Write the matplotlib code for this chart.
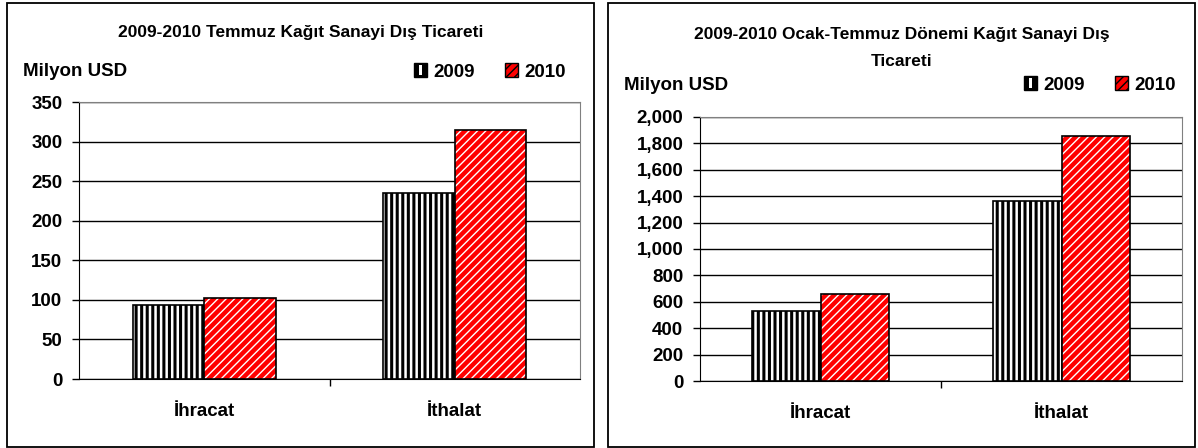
import numpy as np
import matplotlib
matplotlib.use("Agg")
import matplotlib as mpl
import matplotlib.pyplot as plt
from matplotlib.patches import Rectangle, Patch
from matplotlib.ticker import FixedLocator, FuncFormatter

# ---------------- data ----------------
categories = ['İhracat', 'İthalat']
series_names = ['2009', '2010']
temmuz_2009 = [93.5, 235.5]
temmuz_2010 = [102.7, 315.0]
ocak_temmuz_2009 = [530, 1364]
ocak_temmuz_2010 = [661, 1856]
title_left = '2009-2010 Temmuz Kağıt Sanayi Dış Ticareti'
title_right = '2009-2010 Ocak-Temmuz Dönemi Kağıt Sanayi Dış\nTicareti'
unit_label = 'Milyon USD'
left_ticks = [0, 50, 100, 150, 200, 250, 300, 350]
right_ticks = [0, 200, 400, 600, 800, 1000, 1200, 1400, 1600, 1800, 2000]

plt.rcParams['font.family'] = ['Liberation Sans', 'DejaVu Sans']
plt.rcParams['font.weight'] = 'bold'

W, H = 1198, 448
fig = plt.figure(figsize=(W / 100, H / 100), dpi=100)

FS = 13.5


def fx(x):
    return x / W


def fy(y):
    return 1 - y / H


def set_hlw(patches, lw):
    for p in patches:
        try:
            p.set_hatch_linewidth(lw)
        except AttributeError:
            mpl.rcParams['hatch.linewidth'] = lw


def get_handles(leg):
    return leg.legend_handles if hasattr(leg, 'legend_handles') else leg.legendHandles


def panel(box, ax_px, vals09, vals10, ticks, fmt, title, title_y, unit_y, leg_xy):
    bx0, bx1, by0, by1 = box
    fig.patches.append(Rectangle((fx(bx0), fy(by1)), fx(bx1 - bx0), (by1 - by0) / H,
                                 transform=fig.transFigure, fill=False,
                                 edgecolor='black', linewidth=1.3))
    x0, x1, yt, yb = ax_px
    ax = fig.add_axes([fx(x0), fy(yb), fx(x1 - x0), (yb - yt) / H])
    x = np.arange(len(categories))
    w = 0.285
    b09 = ax.bar(x - w / 2, vals09, w, color='white', edgecolor='black',
                 hatch='|||', linewidth=1.2, zorder=3)
    set_hlw(b09, 2.2)
    b10 = ax.bar(x + w / 2, vals10, w, color='#FF0000', edgecolor='white',
                 hatch='////', linewidth=0, zorder=3)
    set_hlw(b10, 1.0)
    ax.bar(x + w / 2, vals10, w, fill=False, edgecolor='black', linewidth=1.2, zorder=4)

    ax.set_xlim(-0.5, len(categories) - 0.5)
    ax.set_ylim(ticks[0], ticks[-1])
    ax.yaxis.set_major_locator(FixedLocator(ticks))
    ax.yaxis.set_major_formatter(FuncFormatter(fmt))
    ax.yaxis.grid(True, color='black', linewidth=1.0)
    ax.set_axisbelow(True)
    ax.tick_params(axis='y', direction='out', length=5, width=1, pad=7,
                   labelsize=FS, colors='black')
    ax.set_xticks(x)
    ax.set_xticklabels(categories)
    ax.set_xticks([0.5], minor=True)
    ax.tick_params(axis='x', which='major', length=0, pad=17, labelsize=FS)
    ax.tick_params(axis='x', which='minor', length=5, width=1, direction='out')
    for lab in ax.get_xticklabels() + ax.get_yticklabels():
        lab.set_fontweight('bold')
    ax.spines['top'].set_color('#808080')
    ax.spines['right'].set_color('#808080')
    ax.spines['left'].set_color('black')
    ax.spines['bottom'].set_color('black')

    cx = (bx0 + bx1) / 2
    fig.text(fx(cx), fy(title_y), title, ha='center', va='center', fontsize=12.5,
             fontweight='bold', linespacing=2.0)
    fig.text(fx(bx0 + 16), fy(unit_y), unit_label, ha='left', va='center',
             fontsize=FS, fontweight='bold')
    h09 = Patch(facecolor='black', edgecolor='black', linewidth=1)
    h10 = Patch(facecolor='#FF0000', edgecolor='black', hatch='////', linewidth=1)
    leg = fig.legend([h09, h10], series_names, loc='center right',
                     bbox_to_anchor=(fx(leg_xy[0]), fy(leg_xy[1])), ncol=2,
                     frameon=False, handlelength=0.7, handleheight=0.7,
                     handletextpad=0.35, columnspacing=1.6, borderpad=0,
                     borderaxespad=0, prop={'size': FS, 'weight': 'bold'})
    return ax, leg


ax1, leg1 = panel((7, 594, 3, 447), (79, 580, 102, 379), temmuz_2009, temmuz_2010,
                  left_ticks, lambda v, p: f'{v:,.0f}', title_left, 33, 72, (566, 72))
ax2, leg2 = panel((608, 1195, 3, 447), (700, 1182, 117, 381), ocak_temmuz_2009,
                  ocak_temmuz_2010, right_ticks, lambda v, p: f'{v:,.0f}', title_right,
                  48, 85, (1176, 85))

# white stripe inside the 2009 legend markers
fig.canvas.draw()
renderer = fig.canvas.get_renderer()
for leg in (leg1, leg2):
    bb = get_handles(leg)[0].get_window_extent(renderer)
    w = bb.width
    s = Rectangle((bb.x0 + w * 0.38, bb.y0 + 1.2), w * 0.24, bb.height - 2.4,
                  transform=None, facecolor='white', edgecolor='none', zorder=10)
    fig.patches.append(s)

fig.savefig('out.png', dpi=100)
